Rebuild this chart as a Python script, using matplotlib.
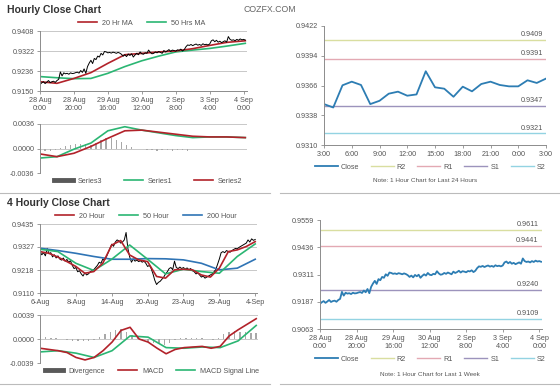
import matplotlib
matplotlib.use('Agg')
import matplotlib.pyplot as plt
import matplotlib.transforms as mtrans
from matplotlib.lines import Line2D

plt.rcParams['font.family'] = ['Liberation Sans', 'DejaVu Sans']

# ---------------- DATA ----------------
hourly_close = [0.9178, 0.9185, 0.9190, 0.9182, 0.9188, 0.9195, 0.9186, 0.9190, 0.9192, 0.9187, 0.9195, 0.9200,
                0.9232,
                0.9215, 0.9228, 0.9224, 0.9226, 0.9222, 0.9228, 0.9225, 0.9226, 0.9229, 0.9231, 0.9227,
                0.9238, 0.9230, 0.9245, 0.9226, 0.9255,
                0.9270, 0.9282, 0.9268, 0.9290, 0.9285,
                0.9300, 0.9296, 0.9312, 0.9305, 0.9320,
                0.9318, 0.9314, 0.9316, 0.9313, 0.9317, 0.9315, 0.9312, 0.9316, 0.9313, 0.9308,
                0.9300, 0.9306, 0.9298, 0.9309, 0.9303, 0.9310, 0.9296, 0.9305, 0.9312, 0.9306, 0.9318, 0.9310,
                0.9308, 0.9314, 0.9312, 0.9326, 0.9316, 0.9310, 0.9312, 0.9318, 0.9314, 0.9320, 0.9316, 0.9312, 0.9324, 0.9318,
                0.9322, 0.9328, 0.9320, 0.9326, 0.9324, 0.9321, 0.9327, 0.9325, 0.9330, 0.9322, 0.9328, 0.9340,
                0.9348, 0.9346, 0.9350, 0.9345, 0.9349, 0.9352, 0.9347, 0.9350, 0.9346, 0.9353, 0.9349, 0.9351, 0.9348, 0.9352,
                0.9366, 0.9370, 0.9362, 0.9368,
                0.9360, 0.9364, 0.9358, 0.9362, 0.9366, 0.9360,
                0.9384, 0.9372, 0.9368,
                0.9370, 0.9366, 0.9372, 0.9368, 0.9374, 0.9370, 0.9372, 0.9369]
hourly_ma_idx = [0, 10, 20, 30, 40, 50, 60, 70, 80, 90, 100, 110, 121]
hourly_ma20 = [0.9190, 0.9183, 0.9204, 0.9229, 0.9269, 0.9306, 0.9312, 0.9318, 0.9322, 0.9332, 0.9346, 0.9359, 0.9366]
hourly_ma50 = [0.9212, 0.9207, 0.9203, 0.9204, 0.9226, 0.9255, 0.9280, 0.9300, 0.9318, 0.9326, 0.9333, 0.9343, 0.9355]
hourly_labels = ['28 Aug\n0:00', '28 Aug\n20:00', '29 Aug\n16:00', '30 Aug\n12:00',
                 '2 Sep\n8:00', '3 Sep\n4:00', '4 Sep\n0:00']
hourly_ticks = [0.9150, 0.9236, 0.9322, 0.9408]

macd1_series1 = [-0.0014, -0.0012, -0.0001, 0.0008, 0.0026, 0.0032, 0.0027, 0.0023, 0.0019, 0.0016, 0.0017, 0.0017, 0.0016]
macd1_series2 = [-0.0008, -0.0012, -0.0007, 0.0003, 0.0015, 0.0026, 0.0027, 0.0024, 0.0021, 0.0018, 0.0017, 0.0017, 0.0016]
macd1_hist_idx = list(range(0, 121, 3))
macd1_series3 = [-0.0003, -0.0004, -0.0003, -0.0002, 0.0001, 0.0004, 0.0005, 0.0006, 0.0006, 0.0006,
                 0.0005, 0.0008, 0.0012, 0.0015, 0.0016, 0.0013, 0.0009, 0.0005, 0.0002, 0.0000,
                 -0.0001, -0.0002, -0.0002, -0.0003, -0.0002, -0.0002, -0.0003, -0.0002, -0.0002, -0.0003,
                 -0.0001, 0.0000, -0.0001, 0.0000, 0.0000, -0.0001, 0.0000, 0.0000, -0.0001, 0.0000, 0.0000]
macd1_ticks = [-0.0036, 0.0000, 0.0036]

h4_close = [0.9305, 0.9290, 0.9300, 0.9285, 0.9320, 0.9295, 0.9300, 0.9280, 0.9290, 0.9275,
            0.9285, 0.9270, 0.9265, 0.9275, 0.9260, 0.9268, 0.9255, 0.9262, 0.9240, 0.9225,
            0.9230, 0.9210, 0.9215, 0.9200, 0.9190, 0.9205, 0.9195, 0.9200, 0.9210, 0.9215,
            0.9220, 0.9230, 0.9240, 0.9255, 0.9250, 0.9270, 0.9265, 0.9280, 0.9300, 0.9320,
            0.9340, 0.9330, 0.9350, 0.9360, 0.9355, 0.9345, 0.9350, 0.9360, 0.9395, 0.9320,
            0.9280, 0.9255, 0.9270, 0.9260, 0.9265, 0.9258, 0.9262, 0.9255, 0.9260, 0.9250,
            0.9235, 0.9240, 0.9225, 0.9200, 0.9170, 0.9150, 0.9160, 0.9165, 0.9175, 0.9185,
            0.9200, 0.9210, 0.9225, 0.9230, 0.9220, 0.9260, 0.9230, 0.9225, 0.9232, 0.9225,
            0.9230, 0.9222, 0.9228, 0.9220, 0.9225, 0.9215, 0.9210, 0.9200, 0.9205, 0.9195,
            0.9185, 0.9190, 0.9180, 0.9185, 0.9190, 0.9195, 0.9200, 0.9210, 0.9220, 0.9245,
            0.9270, 0.9300, 0.9305, 0.9300, 0.9310, 0.9305, 0.9302, 0.9310, 0.9315, 0.9320,
            0.9318, 0.9325, 0.9330, 0.9335, 0.9340, 0.9345, 0.9360, 0.9350, 0.9365, 0.9358, 0.9362]
h4_ma20_idx = list(range(0, 121, 5))
h4_ma20 = [0.9305, 0.9297, 0.9279, 0.9258, 0.9235, 0.9203, 0.9211, 0.9250, 0.9336, 0.9357,
           0.9289, 0.9266, 0.9258, 0.9188, 0.9180, 0.9219, 0.9222, 0.9219, 0.9195, 0.9185,
           0.9227, 0.9305, 0.9313, 0.9329, 0.9352]
h4_ma_idx = list(range(0, 121, 10))
h4_ma50 = [0.9316, 0.9305, 0.9250, 0.9216, 0.9269, 0.9336, 0.9269, 0.9200, 0.9222, 0.9211, 0.9203, 0.9282, 0.9341]
h4_ma200 = [0.9321, 0.9310, 0.9297, 0.9282, 0.9269, 0.9269, 0.9272, 0.9271, 0.9266, 0.9250, 0.9219, 0.9227, 0.9269]
h4_labels = ['6-Aug', '8-Aug', '14-Aug', '20-Aug', '23-Aug', '29-Aug', '4-Sep']
h4_ticks = [0.9110, 0.9218, 0.9327, 0.9435]

macd2_macd = [-0.0015, -0.0017, -0.0019, -0.0022, -0.0030, -0.0034, -0.0030, -0.0019, -0.0005, 0.0014,
              0.0019, 0.0000, -0.0005, -0.0015, -0.0024, -0.0017, -0.0014, -0.0013, -0.0012, -0.0015,
              -0.0012, 0.0005, 0.0015, 0.0024, 0.0033]
macd2_signal = [-0.0021, -0.0019, -0.0023, -0.0030, -0.0019, 0.0005, 0.0003, -0.0014, -0.0015, -0.0013, -0.0014, -0.0003, 0.0022]
macd2_div_idx = list(range(0, 121, 3))
macd2_div = [0.0006, 0.0004, 0.0002, 0.0001, 0.0000, -0.0001, -0.0003, -0.0004, -0.0004, -0.0003,
             -0.0001, 0.0003, 0.0008, 0.0012, 0.0015, 0.0016, 0.0012, 0.0006, 0.0001, -0.0003,
             -0.0005, -0.0007, -0.0008, -0.0009, -0.0006, -0.0002, 0.0001, 0.0002, 0.0001, 0.0001,
             0.0001, 0.0000, -0.0001, 0.0002, 0.0008, 0.0011, 0.0013, 0.0012, 0.0011, 0.0010, 0.0010]
macd2_ticks = [-0.0039, 0.0000, 0.0039]

day_close = [0.93485, 0.93453, 0.93662, 0.93696, 0.93665, 0.93485, 0.93516, 0.93583, 0.93602, 0.93564,
             0.93576, 0.93794, 0.93643, 0.93630, 0.93554, 0.93649, 0.93605, 0.93674, 0.93696, 0.93665,
             0.93652, 0.93652, 0.93709, 0.93684, 0.93725]
day_labels = ['3:00', '6:00', '9:00', '12:00', '15:00', '18:00', '21:00', '0:00', '3:00']
day_ticks = [0.9310, 0.9338, 0.9366, 0.9394, 0.9422]
day_levels = [0.9409, 0.9391, 0.9347, 0.9321]          # R2, R1, S1, S2
day_level_labels = ['0.9409', '0.9391', '0.9347', '0.9321']

week_ticks = [0.9063, 0.9187, 0.9311, 0.9436, 0.9559]
week_levels = [0.9514, 0.9441, 0.9240, 0.9109]         # drawn positions of R2, R1, S1, S2
week_level_labels = ['0.9611', '0.9441', '0.9240', '0.9109']
level_names = ['R2', 'R1', 'S1', 'S2']

# ---------------- STYLE ----------------
RED = '#B2222A'
GREEN = '#2BB673'
BLUE = '#2F74B5'
CLOSE_BLUE = '#2D7DB3'
LEVEL_COLORS = ['#D9DEA0', '#E3A9B3', '#9C93BC', '#93D3E2']
TXT = '#555555'
AX = '#8C8C8C'
GRID = '#C8C8C8'
HIST = '#A8A8A8'
FS = 5.2

W, H = 560, 386
fig = plt.figure(figsize=(5.6, 3.86), dpi=100)


def ax_at(x0, y0, x1, y1):
    return fig.add_axes([x0 / W, 1 - y1 / H, (x1 - x0) / W, (y1 - y0) / H])


def style(ax, grid=True):
    for s in ['top', 'right']:
        ax.spines[s].set_visible(False)
    for s in ['left', 'bottom']:
        ax.spines[s].set_color(AX)
        ax.spines[s].set_linewidth(0.7)
    ax.tick_params(axis='both', labelsize=FS, colors=AX, labelcolor=TXT, length=2, width=0.6, pad=2)
    if grid:
        ax.yaxis.grid(True, color=GRID, linewidth=0.7)
        ax.set_axisbelow(True)


def legend(handles, labels, cx, cy, ncol, spacing=2.2):
    fig.legend(handles, labels, loc='center', bbox_to_anchor=(cx / W, 1 - cy / H), ncol=ncol,
               frameon=False, fontsize=FS, labelcolor=TXT, handlelength=2.6, handletextpad=0.7,
               columnspacing=spacing, borderpad=0)


# Titles
fig.text(7 / W, 1 - 10 / H, 'Hourly Close Chart', fontsize=7.5, fontweight='bold', color='#333333', va='center')
fig.text(244 / W, 1 - 10 / H, 'COZFX.COM', fontsize=6.3, color='#666666', va='center')
fig.text(7 / W, 1 - 203 / H, '4 Hourly Close Chart', fontsize=7.5, fontweight='bold', color='#333333', va='center')
for yy in [193, 384]:
    fig.add_artist(Line2D([0, 270 / W], [1 - yy / H] * 2, color='#BBBBBB', lw=0.8))
    fig.add_artist(Line2D([280 / W, 1], [1 - yy / H] * 2, color='#BBBBBB', lw=0.8))

# ---- Hourly price ----
ax = ax_at(40, 31, 247, 91)
style(ax)
xh = list(range(len(hourly_close)))
ax.plot(hourly_ma_idx, hourly_ma50, color=GREEN, lw=1.2)
ax.plot(hourly_ma_idx, hourly_ma20, color=RED, lw=1.2)
ax.plot(xh, hourly_close, color='black', lw=0.7)
ax.set_xlim(0, 122)
ax.set_ylim(hourly_ticks[0], hourly_ticks[-1])
ax.set_yticks(hourly_ticks)
ax.set_yticklabels(['%.4f' % t for t in hourly_ticks])
ax.set_xticks(range(0, 121, 20))
ax.set_xticklabels(hourly_labels)
legend([Line2D([], [], color=RED, lw=1.2), Line2D([], [], color=GREEN, lw=1.2)],
       ['20 Hr MA', '50 Hrs MA'], 142, 23, 2, spacing=2.0)

# ---- Hourly MACD ----
ax = ax_at(40, 124, 247, 173)
style(ax)
ax.bar(macd1_hist_idx, macd1_series3, width=0.8, color=HIST, linewidth=0)
ax.plot(hourly_ma_idx, macd1_series1, color=GREEN, lw=1.2)
ax.plot(hourly_ma_idx, macd1_series2, color=RED, lw=1.2)
ax.set_xlim(0, 122)
ax.set_ylim(macd1_ticks[0], macd1_ticks[-1])
ax.set_yticks(macd1_ticks)
ax.set_yticklabels(['%.4f' % t for t in macd1_ticks])
ax.set_xticks([])
ax.spines['bottom'].set_visible(False)
legend([Line2D([], [], color='#595959', lw=3.5), Line2D([], [], color=GREEN, lw=1.2), Line2D([], [], color=RED, lw=1.2)],
       ['Series3', 'Series1', 'Series2'], 148, 181, 3, spacing=3.0)

# ---- 4H price ----
ax = ax_at(40, 224, 257, 293)
style(ax)
x4 = list(range(len(h4_close)))
ax.plot(x4, h4_close, color='black', lw=0.7)
ax.plot(h4_ma_idx, h4_ma200, color=BLUE, lw=1.2)
ax.plot(h4_ma_idx, h4_ma50, color=GREEN, lw=1.2)
ax.plot(h4_ma20_idx, h4_ma20, color=RED, lw=1.2)
ax.set_xlim(0, 121)
ax.set_ylim(h4_ticks[0], h4_ticks[-1])
ax.set_yticks(h4_ticks)
ax.set_yticklabels(['%.4f' % t for t in h4_ticks])
ax.set_xticks(range(0, 121, 20))
ax.set_xticklabels(h4_labels)
legend([Line2D([], [], color=RED, lw=1.2), Line2D([], [], color=GREEN, lw=1.2), Line2D([], [], color=BLUE, lw=1.2)],
       ['20 Hour', '50 Hour', '200 Hour'], 146, 216, 3, spacing=2.0)

# ---- 4H MACD ----
ax = ax_at(40, 315, 258, 363)
style(ax)
ax.bar(macd2_div_idx, macd2_div, width=0.8, color=HIST, linewidth=0)
ax.plot(h4_ma_idx, macd2_signal, color=GREEN, lw=1.2)
ax.plot(h4_ma20_idx, macd2_macd, color=RED, lw=1.2)
ax.set_xlim(0, 121)
ax.set_ylim(macd2_ticks[0], macd2_ticks[-1])
ax.set_yticks(macd2_ticks)
ax.set_yticklabels(['%.4f' % t for t in macd2_ticks])
ax.set_xticks([])
ax.spines['bottom'].set_visible(False)
legend([Line2D([], [], color='#595959', lw=3.5), Line2D([], [], color=RED, lw=1.2), Line2D([], [], color=GREEN, lw=1.2)],
       ['Divergence', 'MACD', 'MACD Signal Line'], 152, 371, 3, spacing=1.8)


def level_chart(ax, xs, close, ticks, levels, level_labels, xlim):
    style(ax, grid=False)
    for lv, col in zip(levels, LEVEL_COLORS):
        ax.axhline(lv, color=col, lw=1.0)
    ax.plot(xs, close, color=CLOSE_BLUE, lw=1.3)
    tr = mtrans.blended_transform_factory(ax.transAxes, ax.transData)
    for lv, lab in zip(levels, level_labels):
        ax.annotate(lab, xy=(0.985, lv), xycoords=tr, xytext=(0, 1.2), textcoords='offset points',
                    ha='right', va='bottom', fontsize=FS, color=TXT)
    ax.set_xlim(*xlim)
    ax.set_ylim(ticks[0], ticks[-1])
    ax.set_yticks(ticks)
    ax.set_yticklabels(['%.4f' % t for t in ticks])


# ---- Right top: 24 hours ----
ax = ax_at(324, 26, 546, 145)
level_chart(ax, list(range(len(day_close))), day_close, day_ticks, day_levels, day_level_labels, (0, 24))
ax.set_xticks(range(0, 25, 3))
ax.set_xticklabels(day_labels)
lh = [Line2D([], [], color=CLOSE_BLUE, lw=1.3)] + [Line2D([], [], color=c, lw=1.0) for c in LEVEL_COLORS]
fig.legend(lh, ['Close'] + level_names, loc='center', bbox_to_anchor=(430 / W, 1 - 167 / H), ncol=5,
           frameon=False, fontsize=FS, labelcolor=TXT, handlelength=3.2, handletextpad=0.4,
           columnspacing=1.6, borderpad=0)
fig.text(425 / W, 1 - 180 / H, 'Note: 1 Hour Chart for Last 24 Hours', fontsize=4.6, color=TXT, ha='center', va='center')

# ---- Right bottom: 1 week ----
ax = ax_at(320, 220, 542, 329)
level_chart(ax, xh, hourly_close, week_ticks, week_levels, week_level_labels, (0, 121.5))
ax.set_xticks(range(0, 121, 20))
ax.set_xticklabels(hourly_labels)
fig.legend(lh, ['Close'] + level_names, loc='center', bbox_to_anchor=(430 / W, 1 - 359 / H), ncol=5,
           frameon=False, fontsize=FS, labelcolor=TXT, handlelength=3.2, handletextpad=0.4,
           columnspacing=1.6, borderpad=0)
fig.text(430 / W, 1 - 374 / H, 'Note: 1 Hour Chart for Last 1 Week', fontsize=4.6, color=TXT, ha='center', va='center')

fig.savefig('out.png', dpi=100)
